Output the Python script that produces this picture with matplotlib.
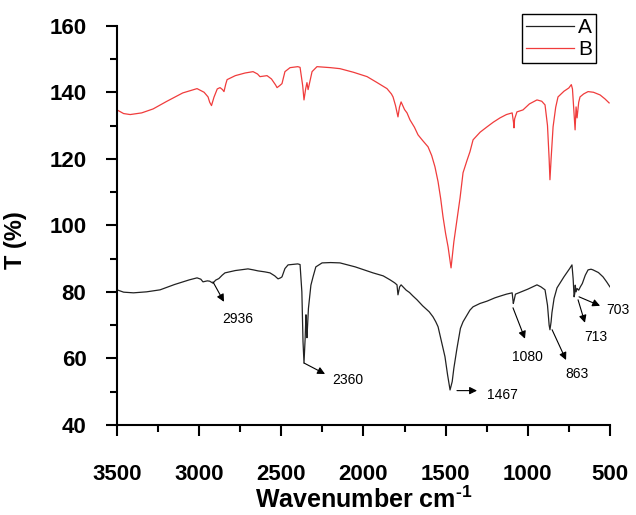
import matplotlib
matplotlib.use("Agg")
import matplotlib.pyplot as plt
from matplotlib.ticker import MultipleLocator

plt.rcParams['font.family'] = ['Liberation Sans', 'DejaVu Sans']
plt.rcParams['mathtext.fontset'] = 'custom'
plt.rcParams['mathtext.rm'] = 'Liberation Sans:bold'
plt.rcParams['mathtext.bf'] = 'Liberation Sans:bold'

# Spectrum A (black), wavenumber in cm-1 and transmittance in %
wn_a = [3500, 3460, 3400, 3320, 3238, 3150, 3060, 3013, 2990, 2977, 2950, 2936,
        2916, 2900, 2880, 2860, 2843, 2780, 2703, 2670, 2642, 2600, 2569, 2540,
        2520, 2505, 2496, 2478, 2459, 2400, 2386, 2375, 2368, 2362, 2355, 2350,
        2347, 2344, 2335, 2320, 2307, 2290, 2252, 2200, 2143, 2050, 1942, 1880,
        1838, 1810, 1796, 1790, 1780, 1771, 1740, 1720, 1700, 1674, 1640, 1600,
        1577, 1560, 1546, 1525, 1504, 1488, 1473, 1460, 1450, 1431, 1410, 1394,
        1352, 1333, 1291, 1248, 1200, 1169, 1130, 1095, 1088, 1083, 1075, 1060,
        1000, 944, 920, 895, 880, 870, 865, 858, 853, 840, 822, 780, 745, 731,
        724, 718, 714, 711, 706, 700, 690, 680, 668, 650, 633, 615, 603, 570,
        542, 520, 500]
t_a = [80.6, 79.9, 79.7, 80.0, 80.6, 82.2, 83.6, 84.2, 83.8, 83.0, 83.3, 83.2,
       82.6, 83.5, 84.0, 85.0, 85.7, 86.4, 86.9, 86.6, 86.3, 86.0, 85.7, 84.8,
       83.9, 84.2, 84.5, 87.0, 88.1, 88.4, 88.2, 80.0, 65.0, 58.6, 66.0, 73.1,
       69.0, 66.2, 75.0, 82.0, 84.5, 87.5, 88.7, 88.8, 88.7, 87.5, 85.7, 84.8,
       83.6, 82.7, 82.1, 79.1, 81.5, 82.1, 80.5, 79.8, 78.8, 77.6, 75.8, 74.0,
       72.5, 71.0, 69.5, 65.0, 60.5, 55.0, 50.5, 53.0, 57.0, 63.0, 69.0, 71.0,
       74.5, 75.5, 76.5, 77.2, 78.2, 78.7, 79.3, 79.7, 76.5, 77.5, 79.3, 79.6,
       80.8, 82.1, 81.5, 80.6, 76.0, 70.0, 68.6, 71.0, 73.7, 78.0, 81.2, 84.5,
       87.0, 88.1, 84.0, 78.5, 79.5, 82.0, 80.0, 81.0, 80.5, 81.5, 82.5, 85.0,
       86.6, 86.8, 86.6, 85.8, 84.5, 83.0, 81.5]

# Spectrum B (red)
wn_b = [3500, 3460, 3420, 3350, 3280, 3200, 3100, 3013, 2970, 2946, 2936, 2925,
        2910, 2890, 2873, 2858, 2849, 2838, 2830, 2780, 2720, 2672, 2645, 2630,
        2587, 2560, 2535, 2526, 2510, 2496, 2478, 2447, 2400, 2386, 2370, 2362,
        2352, 2344, 2337, 2325, 2313, 2283, 2200, 2143, 2060, 1978, 1920, 1857,
        1830, 1820, 1805, 1790, 1781, 1771, 1750, 1735, 1717, 1690, 1668, 1640,
        1607, 1585, 1565, 1546, 1530, 1516, 1500, 1485, 1467, 1450, 1430, 1412,
        1394, 1370, 1352, 1333, 1290, 1248, 1210, 1169, 1130, 1095, 1087, 1084,
        1080, 1066, 1029, 990, 944, 915, 895, 880, 870, 865, 858, 846, 830, 816,
        780, 750, 735, 728, 712, 706, 700, 690, 682, 660, 633, 600, 560, 530, 505]
t_b = [134.7, 133.6, 133.3, 133.8, 135.0, 137.2, 139.8, 141.1, 140.0, 138.6,
       137.0, 136.0, 138.5, 141.0, 141.4, 140.8, 140.2, 142.5, 143.8, 145.0,
       145.8, 146.2, 145.5, 144.7, 145.0, 144.0, 142.2, 141.4, 142.0, 142.6,
       146.2, 147.4, 147.7, 147.5, 142.0, 137.7, 141.0, 142.9, 140.8, 143.5,
       146.2, 147.7, 147.4, 147.1, 146.0, 144.7, 143.0, 141.1, 139.5, 138.6,
       136.0, 132.6, 135.5, 137.1, 134.8, 133.8, 131.7, 129.5, 127.2, 125.5,
       123.6, 121.0, 117.6, 113.1, 108.0, 102.6, 97.5, 93.5, 87.2, 95.0,
       102.0, 108.3, 115.8, 119.5, 122.1, 125.7, 128.0, 129.6, 131.0, 132.3,
       133.3, 133.8, 131.0, 129.3, 132.0, 134.1, 134.7, 136.5, 137.7, 137.3,
       136.2, 130.0, 120.0, 113.7, 120.0, 129.6, 135.5, 138.6, 140.3, 141.3,
       142.3, 141.0, 128.7, 135.6, 132.3, 137.0, 138.6, 139.5, 140.2, 140.0,
       139.2, 138.0, 136.8]

# Peak labels: (text, arrow tail, arrow head, text position)
peak_labels = ["2936", "2360", "1467", "1080", "863", "713", "703"]
tail_xy = [(2916, 83.0), (2362, 58.6), (1431, 50.3), (1090, 75.2), (852, 68.6),
           (694, 77.6), (688, 78.5)]
head_xy = [(2849, 77.0), (2234, 55.3), (1309, 50.3), (1017, 65.9), (767, 59.5),
           (652, 70.7), (560, 75.8)]
text_xy = [(2764, 71.9), (2094, 53.5), (1157, 48.9), (1005, 60.4), (700, 55.3),
           (585, 66.5), (450, 74.6)]

fig = plt.figure(figsize=(6.36, 5.15), dpi=100)
ax = fig.add_axes([0.184, 0.175, 0.775, 0.775])

ax.plot(wn_a, t_a, color='#222222', lw=0.9, label='A')
ax.plot(wn_b, t_b, color='#f03c3c', lw=0.9, label='B')

for lab, t0, h0, p0 in zip(peak_labels, tail_xy, head_xy, text_xy):
    ax.annotate('', xy=h0, xytext=t0,
                arrowprops=dict(arrowstyle='-|>', color='black', lw=0.8,
                                mutation_scale=11, shrinkA=0, shrinkB=0))
    ax.text(p0[0], p0[1], lab, fontsize=10, ha='center', va='center',
            clip_on=False)

ax.set_xlim(3500, 500)
ax.set_ylim(40, 160)
ax.xaxis.set_major_locator(MultipleLocator(500))
ax.xaxis.set_minor_locator(MultipleLocator(250))
ax.yaxis.set_major_locator(MultipleLocator(20))
ax.yaxis.set_minor_locator(MultipleLocator(10))

for s in ['top', 'right']:
    ax.spines[s].set_visible(False)
for s in ['left', 'bottom']:
    ax.spines[s].set_linewidth(1.5)

ax.tick_params(which='major', direction='out', length=8, width=1.5,
               labelsize=16)
ax.tick_params(which='minor', direction='out', length=5, width=1.5)
ax.tick_params(axis='y', which='major', pad=14)
ax.tick_params(axis='x', which='major', pad=20)
for lbl in ax.get_xticklabels() + ax.get_yticklabels():
    lbl.set_fontweight('bold')

ax.set_xlabel(r'Wavenumber cm$^{\text{-1}}$', fontsize=18, fontweight='bold',
              labelpad=1)
ax.set_ylabel('T (%)', fontsize=17, fontweight='bold')
ax.yaxis.set_label_coords(-0.183, 0.464)

leg = ax.legend(loc='upper right', bbox_to_anchor=(0.972, 1.03), fontsize=15,
                fancybox=False, edgecolor='black', framealpha=1,
                handlelength=2.3, borderpad=0.2, labelspacing=0.15,
                handletextpad=0.2, borderaxespad=0)
leg.get_frame().set_linewidth(1.0)

fig.savefig('out.png', dpi=100)
